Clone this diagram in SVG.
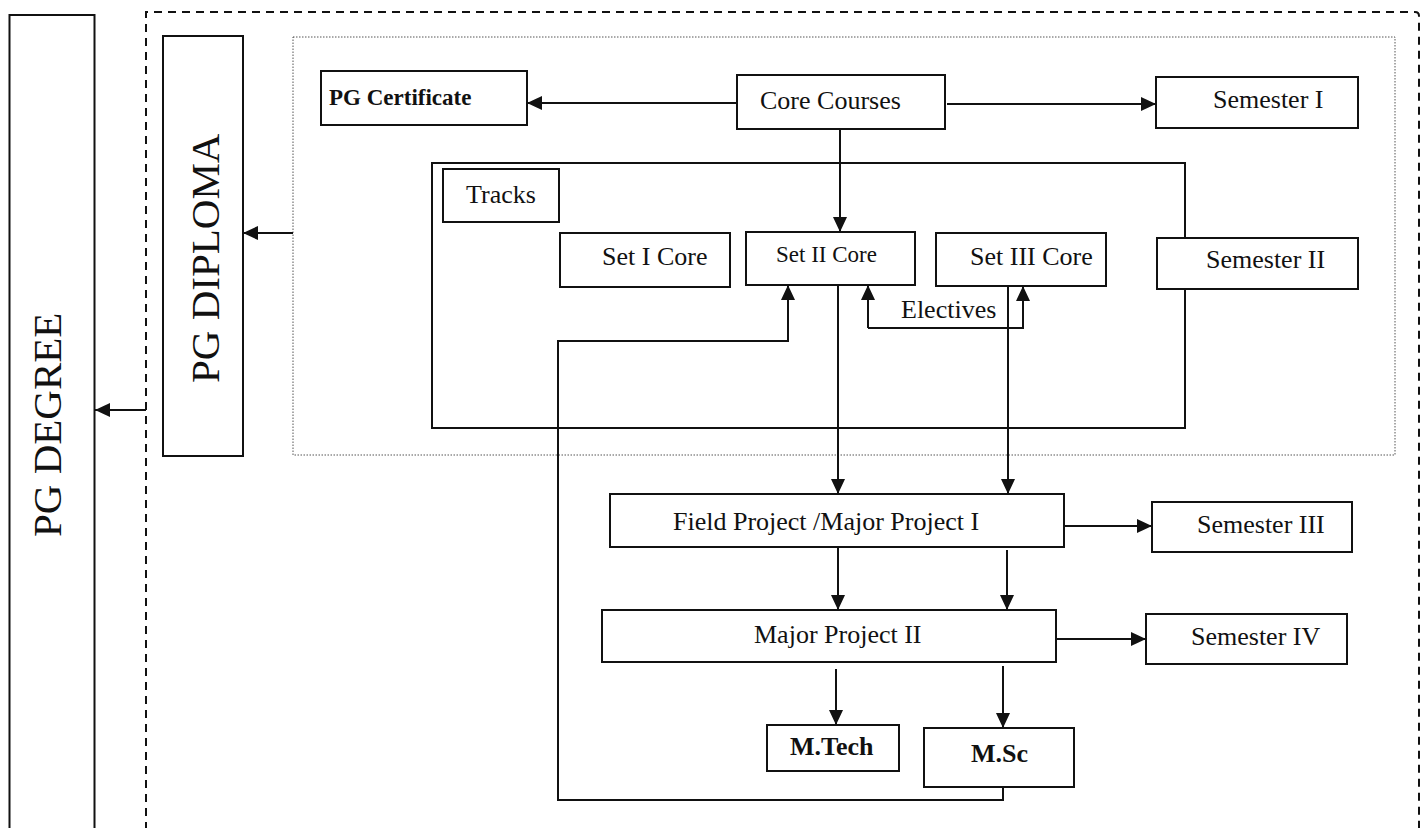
<svg xmlns="http://www.w3.org/2000/svg" width="1426" height="828" viewBox="0 0 1426 828">
<defs>
<marker id="ah" markerUnits="userSpaceOnUse" markerWidth="16" markerHeight="14" refX="15" refY="7" orient="auto">
<path d="M0,0 L15,7 L0,14 z" fill="#111"/>
</marker>
<style>
.box{fill:#fff;stroke:#111;stroke-width:2}
.t{font-family:"Liberation Serif","Times New Roman",serif;font-size:26px;fill:#111}
.b{font-weight:bold}
.c{fill:none;stroke:#111;stroke-width:2;marker-end:url(#ah)}
.ln{fill:none;stroke:#111;stroke-width:2}
</style>
</defs>
<rect width="1426" height="828" fill="#fff"/>

<g id="outer-dashed">
<path d="M146,830 V12 H1415 Q1419,12 1419,16 V830" fill="none" stroke="#111" stroke-width="2" stroke-dasharray="8 6"/>
</g>
<g id="inner-dotted">
<rect x="293" y="37" width="1102" height="418" fill="none" stroke="#555" stroke-width="1" stroke-dasharray="1.5 1.5"/>
</g>

<g id="pg-degree">
<rect class="box" x="9.5" y="15" width="85" height="830"/>
<text class="t" font-size="41" transform="translate(61,537) rotate(-90)" style="font-size:41px">PG DEGREE</text>
</g>
<g id="pg-diploma">
<rect class="box" x="163" y="36" width="80" height="420"/>
<text class="t" transform="translate(219,383) rotate(-90)" style="font-size:41px">PG DIPLOMA</text>
</g>

<g id="tracks">
<rect class="box" x="432" y="163" width="753" height="265"/>
</g>
<g id="tracks-label">
<rect class="box" x="443" y="169" width="116" height="53"/>
<text class="t" x="466" y="203">Tracks</text>
</g>

<g id="pg-certificate">
<rect class="box" x="321" y="71" width="206" height="54"/>
<text class="t b" x="329" y="105" style="font-size:23px">PG Certificate</text>
</g>
<g id="core-courses">
<rect class="box" x="737" y="75" width="208" height="54"/>
<text class="t" x="760" y="109">Core Courses</text>
</g>
<g id="semester-1">
<rect class="box" x="1156" y="77" width="202" height="51"/>
<text class="t" x="1213" y="108">Semester I</text>
</g>
<g id="set-1-core">
<rect class="box" x="560" y="233" width="170" height="54"/>
<text class="t" x="602" y="265">Set I Core</text>
</g>
<g id="set-2-core">
<rect class="box" x="746" y="232" width="169" height="53"/>
<text class="t" x="776" y="262" style="font-size:23px">Set II Core</text>
</g>
<g id="set-3-core">
<rect class="box" x="936" y="233" width="170" height="53"/>
<text class="t" x="970" y="265">Set III Core</text>
</g>
<g id="semester-2">
<rect class="box" x="1157" y="238" width="201" height="51"/>
<text class="t" x="1206" y="268">Semester II</text>
</g>
<g id="field-project">
<rect class="box" x="610" y="494" width="454" height="53"/>
<text class="t" x="673" y="530">Field Project /Major Project I</text>
</g>
<g id="semester-3">
<rect class="box" x="1152" y="502" width="200" height="50"/>
<text class="t" x="1197" y="533">Semester III</text>
</g>
<g id="major-project-2">
<rect class="box" x="602" y="610" width="454" height="52"/>
<text class="t" x="754" y="643">Major Project II</text>
</g>
<g id="semester-4">
<rect class="box" x="1146" y="614" width="201" height="50"/>
<text class="t" x="1191" y="645">Semester IV</text>
</g>
<g id="mtech">
<rect class="box" x="767" y="725" width="132" height="46"/>
<text class="t b" x="790" y="755">M.Tech</text>
</g>
<g id="msc">
<rect class="box" x="924" y="728" width="150" height="59"/>
<text class="t b" x="971" y="762">M.Sc</text>
</g>

<g id="connectors">
<path class="c" d="M737,103 H527"/>
<path class="c" d="M947,104 H1156"/>
<path class="c" d="M840,129 V232"/>
<path class="c" d="M838,285 V494"/>
<path class="c" d="M1008,286 V494"/>
<path class="c" d="M868,328 H1023 V286"/>
<path class="c" d="M868,328 V285"/>
<text class="t" x="901" y="318">Electives</text>
<path class="c" d="M1003,787 V800 H558 V341 H788 V285"/>
<path class="c" d="M838,547 V610"/>
<path class="c" d="M1007,550 V610"/>
<path class="c" d="M1064,526 H1152"/>
<path class="c" d="M1056,639 H1146"/>
<path class="c" d="M836,669 V725"/>
<path class="c" d="M1003,666 V728"/>
<path class="c" d="M293,233 H243"/>
<path class="c" d="M146,410 H95"/>
</g>
</svg>
